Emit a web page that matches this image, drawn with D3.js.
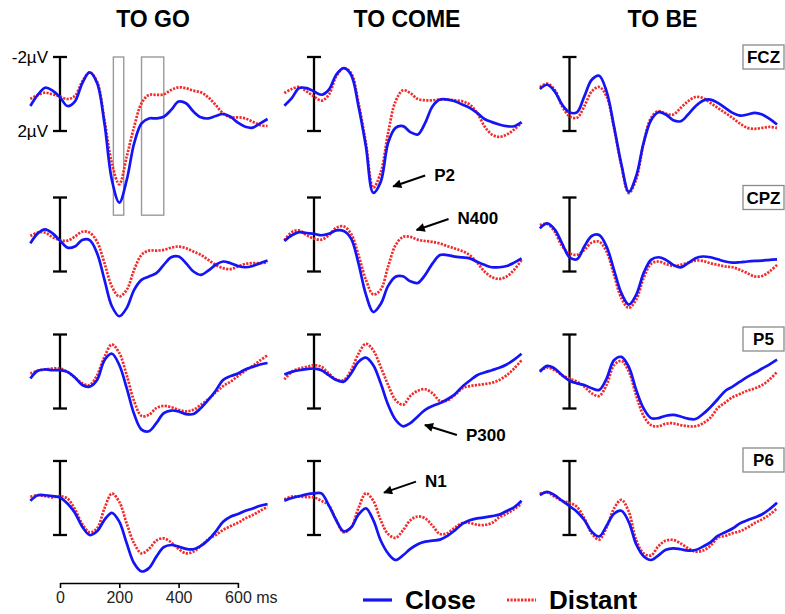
<!DOCTYPE html>
<html>
<head>
<meta charset="utf-8">
<script src="https://cdn.jsdelivr.net/npm/d3@7"></script>
<style>
  body { margin: 0; background: #fff; }
  text { font-family: "Liberation Sans", Arial, Helvetica, sans-serif; }
</style>
</head>
<body>
<svg id="erp-chart" width="785" height="614"></svg>
<script>
// time grid (ms) shared by every waveform
const times = [-100, -75, -50, -25, 0, 25, 50, 75, 100, 125, 150, 175, 200, 225, 250, 275, 300,
  325, 350, 375, 400, 425, 450, 475, 500, 525, 550, 575, 600, 625, 650, 675, 700];

const conditions = ['TO GO', 'TO COME', 'TO BE'];
const electrodes = ['FCZ', 'CPZ', 'P5', 'P6'];
const xTickValues = [0, 200, 400, 600];
const legendLabels = ['Close', 'Distant'];
const timeWindows = [[180, 215], [275, 350]];

// amplitudes in µV (negative plotted up)
const goFczClose = [0.65, 0.05, -0.34, -0.18, 0.18, 0.65, 0.41, -0.58, -1.17, -0.6, 1.6, 4.65, 5.87, 4.65, 2.67, 1.59, 1.32, 1.32, 1.23, 0.86, 0.41, 0.5, 0.95, 1.26, 1.32, 1.19, 1.08, 1.23, 1.55, 1.77, 1.82, 1.59, 1.35];
const goFczDistant = [0.27, 0.05, -0.07, 0.02, 0.14, 0.27, 0.11, -0.67, -1.17, -0.67, 1.41, 3.75, 4.88, 3.39, 1.77, 0.5, 0.05, 0.05, 0.02, -0.22, -0.36, -0.31, -0.18, -0.09, 0.18, 0.59, 1.05, 1.26, 1.26, 1.32, 1.5, 1.68, 1.73];
const comeFczClose = [0.63, 0.22, -0.32, -0.32, -0.14, 0.04, -0.23, -1.04, -1.4, -1.04, 0.66, 2.82, 5.34, 4.75, 2.64, 1.83, 1.74, 2.06, 2.19, 1.56, 0.66, 0.3, 0.3, 0.39, 0.57, 0.75, 1.02, 1.35, 1.52, 1.65, 1.74, 1.74, 1.52];
const comeFczDistant = [-0.05, -0.27, -0.38, -0.14, 0.13, 0.36, 0.04, -0.95, -1.4, -1.13, 0.48, 2.64, 5.06, 4.25, 2.1, 0.4, -0.2, -0.05, 0.27, 0.34, 0.34, 0.3, 0.3, 0.34, 0.39, 0.57, 1.02, 1.74, 2.19, 2.32, 2.19, 1.92, 1.56];
const beFczClose = [-0.27, -0.5, -0.14, 0.57, 0.99, 0.99, 0.13, -0.77, -0.99, -0.14, 1.74, 3.8, 5.29, 4.43, 2.64, 1.42, 0.99, 1.11, 1.42, 1.47, 1.11, 0.66, 0.36, 0.3, 0.48, 0.75, 1.02, 1.17, 1.11, 1.02, 1.11, 1.35, 1.65];
const beFczDistant = [-0.38, -0.56, -0.23, 0.66, 1.2, 1.29, 0.66, -0.14, -0.38, 0.13, 1.83, 3.89, 5.36, 4.61, 2.64, 1.29, 0.93, 1.06, 1.11, 0.75, 0.39, 0.16, 0.22, 0.48, 0.75, 1.02, 1.29, 1.6, 1.83, 1.88, 1.83, 1.78, 1.83];

const goCpzClose = [0.48, -0.06, -0.28, -0.06, 0.33, 0.71, 0.65, 0.3, 0.3, 1.01, 2.45, 3.88, 4.42, 3.97, 2.99, 2.45, 2.27, 2.09, 1.64, 1.23, 1.19, 1.55, 2.0, 2.18, 1.95, 1.64, 1.46, 1.55, 1.7, 1.77, 1.7, 1.55, 1.41];
const goCpzDistant = [0.08, -0.1, -0.1, 0.15, 0.3, 0.33, 0.12, -0.15, -0.1, 0.39, 1.55, 2.81, 3.35, 2.99, 1.91, 1.1, 0.87, 0.87, 0.83, 0.71, 0.65, 0.74, 0.92, 1.1, 1.37, 1.64, 1.82, 1.87, 1.73, 1.59, 1.55, 1.55, 1.52];
const comeCpzClose = [0.35, 0.04, -0.13, -0.08, -0.04, 0.04, -0.04, -0.22, -0.19, 0.22, 1.56, 3.24, 4.19, 3.76, 2.78, 2.28, 2.26, 2.53, 2.62, 2.18, 1.56, 1.11, 1.11, 1.2, 1.24, 1.29, 1.47, 1.64, 1.77, 1.77, 1.7, 1.52, 1.29];
const comeCpzDistant = [0.31, -0.13, -0.22, 0.04, 0.22, 0.28, 0.04, -0.36, -0.44, -0.04, 1.11, 2.44, 3.24, 2.98, 1.73, 0.58, 0.13, 0.13, 0.28, 0.35, 0.4, 0.49, 0.63, 0.76, 0.9, 1.11, 1.52, 2.0, 2.3, 2.4, 2.27, 1.91, 1.38];
const beCpzClose = [-0.33, -0.6, -0.28, 0.48, 1.23, 1.34, 0.65, 0.08, 0.03, 0.65, 1.91, 3.17, 3.79, 3.26, 2.09, 1.37, 1.23, 1.37, 1.64, 1.78, 1.55, 1.28, 1.19, 1.23, 1.34, 1.46, 1.52, 1.5, 1.46, 1.43, 1.41, 1.37, 1.34];
const beCpzDistant = [-0.51, -0.57, -0.15, 0.62, 1.01, 1.1, 0.83, 0.44, 0.39, 0.92, 2.18, 3.44, 3.97, 3.52, 2.36, 1.59, 1.46, 1.59, 1.7, 1.64, 1.52, 1.41, 1.43, 1.55, 1.64, 1.73, 1.77, 1.91, 2.09, 2.27, 2.24, 2.0, 1.64];

const goP5Close = [0.38, -0.04, -0.11, -0.07, -0.07, 0.02, 0.32, 0.73, 0.82, 0.46, -0.61, -0.96, -0.35, 0.9, 2.3, 3.14, 3.23, 2.79, 2.25, 2.11, 2.16, 2.3, 2.3, 1.98, 1.54, 1.04, 0.46, 0.25, 0.11, -0.11, -0.25, -0.38, -0.46];
const goP5Distant = [0.11, -0.04, -0.11, -0.16, -0.16, 0.02, 0.32, 0.64, 0.73, 0.2, -0.8, -1.46, -1.0, 0.2, 1.6, 2.4, 2.34, 1.98, 1.86, 1.93, 2.07, 2.16, 2.07, 1.8, 1.5, 1.14, 0.79, 0.55, 0.25, -0.04, -0.3, -0.6, -0.88];
const comeP5Close = [0.16, 0.02, -0.07, -0.13, -0.16, -0.07, 0.2, 0.46, 0.55, 0.11, -0.52, -0.75, -0.34, 0.64, 1.8, 2.61, 2.96, 2.79, 2.43, 2.07, 1.86, 1.71, 1.5, 1.23, 0.82, 0.5, 0.2, 0.05, -0.07, -0.2, -0.38, -0.64, -0.96];
const comeP5Distant = [0.43, 0.02, -0.16, -0.25, -0.34, -0.25, 0.11, 0.43, 0.46, -0.07, -0.96, -1.5, -1.14, -0.25, 0.73, 1.54, 1.8, 1.32, 1.04, 0.96, 1.18, 1.59, 1.57, 1.27, 0.91, 0.79, 0.73, 0.68, 0.61, 0.46, 0.2, -0.16, -0.61];
const beP5Close = [0.02, -0.3, -0.16, 0.2, 0.5, 0.64, 0.73, 0.91, 1.0, 0.38, -0.61, -0.79, -0.25, 1.0, 2.0, 2.52, 2.52, 2.39, 2.34, 2.43, 2.55, 2.57, 2.3, 1.93, 1.5, 1.05, 0.82, 0.55, 0.29, 0.07, -0.16, -0.39, -0.64];
const beP5Distant = [-0.04, -0.21, -0.07, 0.2, 0.38, 0.55, 0.82, 1.18, 1.32, 0.73, -0.34, -0.57, 0.0, 1.3, 2.4, 2.9, 2.96, 2.82, 2.8, 2.9, 2.96, 2.96, 2.8, 2.5, 1.98, 1.68, 1.39, 1.21, 1.04, 0.91, 0.73, 0.43, 0.02];

const goP6Close = [0.15, -0.15, -0.15, -0.1, -0.03, 0.3, 0.8, 1.55, 2.0, 1.8, 1.18, 0.8, 1.28, 2.45, 3.53, 3.97, 3.79, 3.17, 2.66, 2.54, 2.63, 2.75, 2.77, 2.59, 2.27, 1.82, 1.28, 1.01, 0.87, 0.69, 0.57, 0.42, 0.33];
const goP6Distant = [-0.06, -0.15, -0.1, -0.03, -0.1, 0.03, 0.6, 1.4, 1.85, 1.64, 0.56, -0.24, 0.21, 1.38, 2.45, 2.99, 2.75, 2.3, 2.18, 2.4, 2.75, 2.99, 2.9, 2.59, 2.23, 2.0, 1.73, 1.52, 1.34, 1.1, 0.92, 0.69, 0.48];
const comeP6Close = [0.15, 0.0, -0.1, -0.2, -0.25, -0.25, 0.4, 1.2, 1.8, 1.6, 0.9, 0.56, 1.2, 2.3, 3.0, 3.35, 3.1, 2.75, 2.5, 2.36, 2.3, 2.25, 2.05, 1.75, 1.4, 1.2, 1.1, 1.05, 0.98, 0.9, 0.7, 0.5, 0.15];
const comeP6Distant = [0.08, -0.08, -0.08, -0.05, -0.03, 0.15, 0.4, 1.2, 1.85, 1.6, 0.55, -0.25, 0.15, 1.2, 1.95, 2.15, 1.75, 1.2, 1.0, 1.1, 1.5, 1.95, 1.9, 1.6, 1.35, 1.35, 1.45, 1.46, 1.35, 1.05, 0.85, 0.6, 0.3];
const beP6Close = [-0.15, -0.33, -0.15, 0.15, 0.44, 0.74, 1.19, 1.82, 2.08, 1.5, 0.85, 0.69, 1.3, 2.5, 3.15, 3.35, 3.1, 2.8, 2.72, 2.77, 2.84, 2.81, 2.63, 2.4, 2.05, 1.85, 1.65, 1.37, 1.2, 1.05, 0.88, 0.6, 0.26];
const beP6Distant = [-0.24, -0.3, -0.06, 0.15, 0.26, 0.48, 1.1, 1.91, 2.25, 1.59, 0.57, 0.1, 0.74, 2.27, 2.99, 3.1, 2.6, 2.3, 2.27, 2.45, 2.72, 2.9, 2.84, 2.59, 2.15, 2.05, 1.9, 1.8, 1.6, 1.35, 1.15, 0.9, 0.56];

// [condition][electrode] -> [close, distant]
const waves = [
  [[goFczClose, goFczDistant], [goCpzClose, goCpzDistant], [goP5Close, goP5Distant], [goP6Close, goP6Distant]],
  [[comeFczClose, comeFczDistant], [comeCpzClose, comeCpzDistant], [comeP5Close, comeP5Distant], [comeP6Close, comeP6Distant]],
  [[beFczClose, beFczDistant], [beCpzClose, beCpzDistant], [beP5Close, beP5Distant], [beP6Close, beP6Distant]]
];

// component labels: tip of the arrow in (ms, µV) of the panel it points at
const annotations = [
  { label: 'P2', cond: 1, elec: 0, t: 267, v: 5.0 },
  { label: 'N400', cond: 1, elec: 1, t: 346, v: -0.24 },
  { label: 'P300', cond: 1, elec: 2, t: 374, v: 2.89 },
  { label: 'N1', cond: 1, elec: 3, t: 236, v: -0.29 }
];

// layout
const colZero = [60, 314, 569.5];
const rowZero = [94, 234.5, 371.5, 498];
const boxCenterY = [57, 197.5, 339, 460];
const msPx = 0.2965;
const uvPx = 18.5;
const closeColor = '#1414f5';
const distantColor = '#f22a2a';

const svg = d3.select('#erp-chart');

svg.append('defs').append('marker')
  .attr('id', 'arrow-head')
  .attr('viewBox', '0 0 10 10')
  .attr('refX', 9)
  .attr('refY', 5)
  .attr('markerWidth', 11)
  .attr('markerHeight', 9)
  .attr('markerUnits', 'userSpaceOnUse')
  .attr('orient', 'auto')
  .append('path')
  .attr('d', 'M0,0L10,5L0,10Z')
  .attr('fill', '#000');

function xScaleFor(c) {
  return d3.scaleLinear().domain([-100, 700])
    .range([colZero[c] - 100 * msPx, colZero[c] + 700 * msPx]);
}

function yScaleFor(r) {
  return d3.scaleLinear().domain([-2, 2])
    .range([rowZero[r] - 2 * uvPx, rowZero[r] + 2 * uvPx]);
}

// condition titles
svg.selectAll('.cond-title')
  .data(conditions)
  .join('text')
  .attr('class', 'cond-title')
  .attr('x', (d, i) => colZero[i] + 93)
  .attr('y', 27)
  .attr('text-anchor', 'middle')
  .style('font-size', '23px')
  .style('font-weight', 'bold')
  .text(d => d);

// time windows in TO GO / FCZ
{
  const x = xScaleFor(0), y = yScaleFor(0);
  svg.selectAll('.window')
    .data(timeWindows)
    .join('rect')
    .attr('class', 'window')
    .attr('x', d => x(d[0]))
    .attr('width', d => x(d[1]) - x(d[0]))
    .attr('y', y(-2))
    .attr('height', y(6.55) - y(-2))
    .attr('fill', 'none')
    .attr('stroke', '#9a9a9a')
    .attr('stroke-width', 1.4);
}

conditions.forEach((cond, c) => {
  electrodes.forEach((elec, r) => {
    const x = xScaleFor(c);
    const y = yScaleFor(r);
    const g = svg.append('g').attr('class', 'panel');

    // scale bar
    const x0 = x(0);
    g.append('line')
      .attr('x1', x0).attr('x2', x0)
      .attr('y1', y(-2)).attr('y2', y(2))
      .attr('stroke', '#000').attr('stroke-width', 2.3);
    [-2, 2].forEach(v => {
      g.append('line')
        .attr('x1', x0 - 7).attr('x2', x0 + 7)
        .attr('y1', y(v)).attr('y2', y(v))
        .attr('stroke', '#000').attr('stroke-width', 2.3);
    });

    const line = d3.line()
      .x((d, i) => x(times[i]))
      .y(d => y(d))
      .curve(d3.curveCatmullRom.alpha(0.5));

    const [close, distant] = waves[c][r];

    g.append('path')
      .attr('d', line(distant))
      .attr('fill', 'none')
      .attr('stroke', distantColor)
      .attr('stroke-width', 2.7)
      .attr('stroke-dasharray', '2.2,1.3');

    g.append('path')
      .attr('d', line(close))
      .attr('fill', 'none')
      .attr('stroke', closeColor)
      .attr('stroke-width', 2.7);

    if (c === 0 && r === 0) {
      g.append('text')
        .attr('x', x0 - 12).attr('y', y(-2) + 6)
        .attr('text-anchor', 'end')
        .style('font-size', '17px')
        .text('-2µV');
      g.append('text')
        .attr('x', x0 - 12).attr('y', y(2) + 6)
        .attr('text-anchor', 'end')
        .style('font-size', '17px')
        .text('2µV');
    }

    // electrode box on the right
    if (c === conditions.length - 1) {
      const by = boxCenterY[r] - 12;
      g.append('rect')
        .attr('x', 743).attr('y', by)
        .attr('width', 41).attr('height', 24)
        .attr('fill', '#fff')
        .attr('stroke', '#8a8a8a')
        .attr('stroke-width', 1.3);
      g.append('text')
        .attr('x', 763.5).attr('y', by + 18)
        .attr('text-anchor', 'middle')
        .style('font-size', '17px')
        .style('font-weight', 'bold')
        .text(elec);
    }
  });
});

// component annotations
annotations.forEach(a => {
  const x = xScaleFor(a.cond), y = yScaleFor(a.elec);
  const tipX = x(a.t), tipY = y(a.v);
  const dy = a.label === 'P300' ? 10 : -11;
  const tailX = tipX + 32, tailY = tipY + dy;
  svg.append('line')
    .attr('x1', tailX).attr('y1', tailY)
    .attr('x2', tipX).attr('y2', tipY)
    .attr('stroke', '#000')
    .attr('stroke-width', 2)
    .attr('marker-end', 'url(#arrow-head)');
  svg.append('text')
    .attr('x', tailX + 9)
    .attr('y', tailY + (a.label === 'P300' ? 6 : 5))
    .style('font-size', '17px')
    .style('font-weight', 'bold')
    .text(a.label);
});

// time axis under TO GO
{
  const x = d3.scaleLinear().domain([0, 600]).range([colZero[0], colZero[0] + 600 * msPx]);
  const axis = svg.append('g')
    .attr('transform', 'translate(0,583)')
    .call(d3.axisBottom(x).tickValues(xTickValues).tickSize(5).tickSizeOuter(0).tickFormat(d => d));
  axis.select('.domain').attr('stroke-width', 1.6);
  axis.selectAll('.tick line').attr('stroke-width', 1.6);
  axis.selectAll('.tick text')
    .attr('y', 9)
    .style('font-size', '16px')
    .style('font-family', '"Liberation Sans", Arial, sans-serif')
    .attr('fill', '#222');
  axis.selectAll('.tick text').filter(d => d === 600)
    .attr('text-anchor', 'start')
    .attr('dx', -13.3)
    .text('600 ms');
}

// legend
const legend = svg.append('g').attr('class', 'legend');
legendLabels.forEach((label, i) => {
  const lx = i === 0 ? 363 : 507;
  legend.append('line')
    .attr('x1', lx).attr('x2', lx + 29)
    .attr('y1', 600).attr('y2', 600)
    .attr('stroke', i === 0 ? closeColor : distantColor)
    .attr('stroke-width', 3.2)
    .attr('stroke-dasharray', i === 0 ? null : '2.2,1.3');
  legend.append('text')
    .attr('x', lx + 42)
    .attr('y', 609)
    .style('font-size', '26px')
    .style('font-weight', 'bold')
    .text(label);
});
</script>
</body>
</html>
